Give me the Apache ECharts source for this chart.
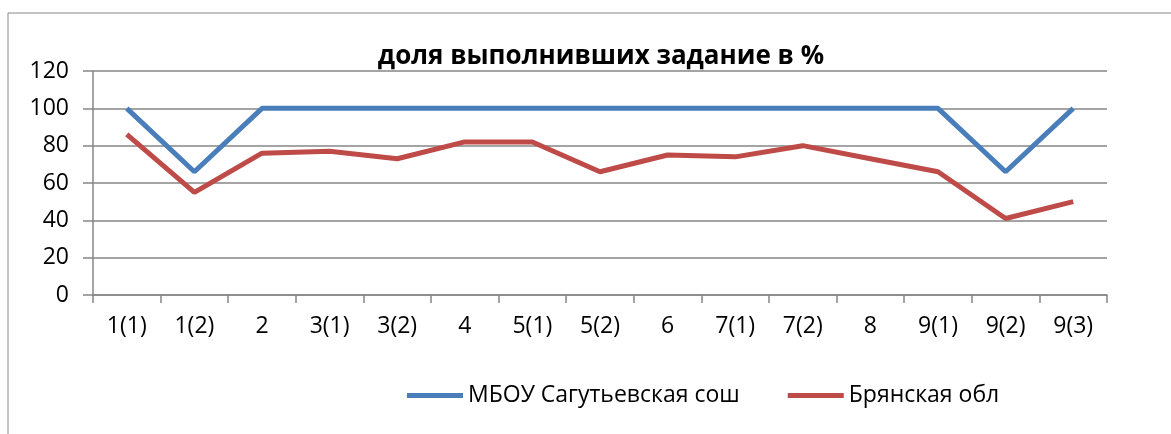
<!DOCTYPE html>
<html>
<head>
<meta charset="utf-8">
<script src="https://cdn.jsdelivr.net/npm/echarts@6/dist/echarts.min.js"></script>
<style>
  html, body { margin: 0; padding: 0; background: #fff; }
  #chart_block { width: 1171px; height: 434px; }
</style>
</head>
<body>
<div id="chart_block"></div>
<script>
var categories = ['1(1)', '1(2)', '2', '3(1)', '3(2)', '4', '5(1)', '5(2)', '6', '7(1)', '7(2)', '8', '9(1)', '9(2)', '9(3)'];
var school = [100, 66, 100, 100, 100, 100, 100, 100, 100, 100, 100, 100, 100, 66, 100];
var region = [86, 55, 76, 77, 73, 82, 82, 66, 75, 74, 80, 73, 66, 41, 50];
var yTicks = [0, 20, 40, 60, 80, 100, 120];

const blueColor = '#4a7ebb';
const redColor = '#be4b48';
const fontName = 'Open Sans';

var chartDom = document.getElementById('chart_block');
var myChart = echarts.init(chartDom);

var options = {
  animation: false,
  title: {
    text: 'доля выполнивших задание в %',
    left: 596,
    top: 39,
    textAlign: 'center',
    textStyle: { fontFamily: fontName, fontSize: 26, fontWeight: 'bold', color: '#000' }
  },
  graphic: [
    {
      type: 'rect',
      shape: { x: 8, y: 13, width: 1200, height: 460 },
      style: { fill: 'none', stroke: '#888', lineWidth: 1 },
      silent: true
    }
  ],
  legend: {
    left: 402,
    top: 379,
    itemWidth: 56,
    itemHeight: 5,
    itemGap: 48,
    icon: 'rect',
    textStyle: { fontFamily: fontName, fontSize: 23, color: '#000' },
    data: ['МБОУ Сагутьевская сош', 'Брянская обл']
  },
  grid: {
    left: 93,
    right: 64,
    top: 71,
    bottom: 139
  },
  xAxis: {
    type: 'category',
    data: categories,
    boundaryGap: true,
    axisLine: { lineStyle: { color: '#868686', width: 1.5 } },
    axisTick: { show: true, length: 8, lineStyle: { color: '#868686', width: 1.5 } },
    axisLabel: { fontFamily: fontName, fontSize: 23, color: '#000', margin: 20, interval: 0 },
    splitLine: { show: false }
  },
  yAxis: {
    type: 'value',
    min: yTicks[0],
    max: yTicks[yTicks.length - 1],
    interval: 20,
    axisLine: { show: true, lineStyle: { color: '#868686', width: 1.5 } },
    axisTick: { show: true, length: 10, lineStyle: { color: '#868686', width: 1.5 } },
    axisLabel: { fontFamily: fontName, fontSize: 23, color: '#000', margin: 24 },
    splitLine: { show: true, lineStyle: { color: '#868686', width: 1.5 } }
  },
  series: [
    {
      name: 'МБОУ Сагутьевская сош',
      type: 'line',
      data: school,
      symbol: 'none',
      color: blueColor,
      lineStyle: { width: 5, color: blueColor }
    },
    {
      name: 'Брянская обл',
      type: 'line',
      data: region,
      symbol: 'none',
      color: redColor,
      lineStyle: { width: 5, color: redColor }
    }
  ]
};

myChart.setOption(options, true);
</script>
</body>
</html>
